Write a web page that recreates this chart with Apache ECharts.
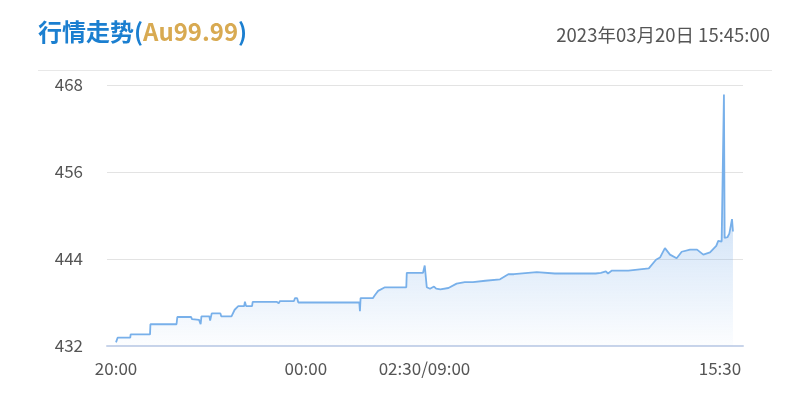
<!DOCTYPE html>
<html>
<head>
<meta charset="utf-8">
<script src="https://cdn.jsdelivr.net/npm/echarts@6/dist/echarts.min.js"></script>
<style>
html,body{margin:0;padding:0;background:#fff;}
#c{width:803px;height:412px;}
</style>
</head>
<body>
<div id="c"></div>
<script>
// minutes since 20:00 (night 20:00-02:30 = 0..390, day 09:00-15:30 = 390..780)
const times = [0,1.5,2,18,18.5,43,43.5,76.5,77.5,95,96,105,107,108,109,118,119,121,132,133,146,150,154.6,162,163,164.5,172,172.8,203,205.7,207.3,225,226.3,229,230.5,307.6,308.4,309.2,324.7,327.2,331.4,340,367,367.6,388.2,390.3,392.9,397,402,404.8,410,420.3,430.6,441,451.3,466.8,485.5,496,503,532,554.7,586.6,606.4,613,619.3,622,627,647.8,673.6,682.7,687.7,694,700.4,708.8,715.2,725.7,734.6,742.5,751,758.9,761.4,765.7,767.8,768.6,769.5,773,775.4,778.8,780];
const prices = [432.5,432.6,433.15,433.15,433.6,433.6,435.0,435.0,436.0,436.0,435.7,435.6,435.0,436.1,436.1,436.1,435.5,436.5,436.5,436.1,436.1,437.0,437.5,437.5,438.1,437.5,437.5,438.1,438.1,437.9,438.2,438.2,438.6,438.6,438.0,438.0,436.8,438.6,438.6,439.0,439.6,440.1,440.1,442.1,442.1,443.1,440.1,439.9,440.2,439.9,439.8,440.0,440.6,440.8,440.8,441.0,441.2,441.9,441.9,442.2,442.0,442.0,442.0,442.1,442.3,442.0,442.4,442.4,442.7,443.9,444.2,445.5,444.6,444.1,445.0,445.3,445.3,444.6,444.9,445.8,446.5,446.4,446.5,466.7,446.9,447.0,447.5,449.5,447.8];
const tickValues = [0,240,390,780];
const tickLabels = ['20:00','00:00','02:30/09:00','15:30'];
const yMin = 432, yMax = 468, yStep = 12;

const seriesData = times.map((t,i)=>[t, prices[i]]);
const chart = echarts.init(document.getElementById('c'), null, {renderer:'canvas'});
const font = '"Noto Sans CJK SC","Noto Sans",sans-serif';
chart.setOption({
  animation:false,
  title:[
    {text:'{a|行情走势(}{b|Au99.99}{a|)}', left:33, top:15,
     textStyle:{rich:{
       a:{fontSize:24,fontWeight:'bold',color:'#1b7fd0',fontFamily:font},
       b:{fontSize:24,fontWeight:'bold',color:'#d8aa52',fontFamily:font}
     }}},
    {text:'2023年03月20日 15:45:00', right:28, top:21,
     textStyle:{fontSize:18.5,fontWeight:'normal',color:'#555',fontFamily:font}}
  ],
  graphic:[{type:'line',shape:{x1:38,y1:70.5,x2:772,y2:70.5},style:{stroke:'#e8e8e8',lineWidth:1}}],
  grid:{left:107,right:60,top:85,bottom:66},
  xAxis:{
    type:'value', min:-11.4, max:792.7,
    axisLine:{show:true,lineStyle:{color:'#c8d4ea',width:2}},
    axisTick:{show:false},
    splitLine:{show:false},
    axisLabel:{
      customValues:tickValues,
      margin:14,
      color:'#555', fontSize:17, fontFamily:font,
      formatter:function(v){
        const i = tickValues.indexOf(v);
        if(i===3) return '{r|'+tickLabels[i]+'}';
        return i>=0 ? tickLabels[i] : '';
      },
      rich:{r:{color:'#555',fontSize:17,fontFamily:font,padding:[0,26,0,0]}}
    }
  },
  yAxis:{
    type:'value', min:yMin, max:yMax, interval:yStep,
    axisLine:{show:false}, axisTick:{show:false},
    axisLabel:{color:'#555',fontSize:17,fontFamily:font,margin:24},
    splitLine:{lineStyle:{color:'#e3e3e3',width:1}}
  },
  series:[{
    type:'line', data:seriesData, showSymbol:false, smooth:false,
    lineStyle:{color:'#78b0ea',width:1.8},
    areaStyle:{color:new echarts.graphic.LinearGradient(0,0,0,1,[
      {offset:0,color:'rgba(120,172,232,0.9)'},
      {offset:1,color:'rgba(120,172,232,0.03)'}
    ])}
  }]
});
</script>
</body>
</html>
